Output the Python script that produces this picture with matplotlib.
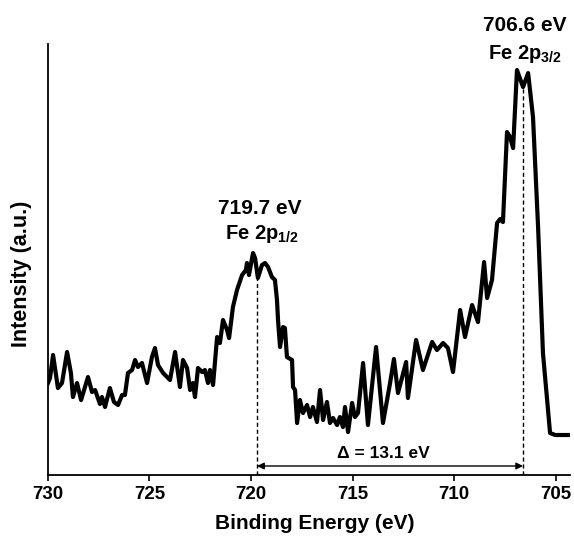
import matplotlib
matplotlib.use("Agg")
import matplotlib.pyplot as plt

plt.rcParams['font.family'] = ['Liberation Sans', 'DejaVu Sans']
plt.rcParams['font.weight'] = 'bold'
plt.rcParams['mathtext.fontset'] = 'custom'
plt.rcParams['mathtext.rm'] = 'Liberation Sans:bold'
plt.rcParams['mathtext.it'] = 'Liberation Sans:bold'
plt.rcParams['mathtext.bf'] = 'Liberation Sans:bold'
plt.rcParams['mathtext.default'] = 'rm'

# Fe 2p XPS spectrum (binding energy in eV, intensity in arbitrary units)
energy = [730.00, 729.90, 729.75, 729.51, 729.31, 729.06, 728.87, 728.77, 728.57, 728.37,
          728.03, 727.83, 727.68, 727.44, 727.34, 727.19, 726.95, 726.75, 726.55, 726.35,
          726.21, 726.06, 725.86, 725.71, 725.57, 725.37, 725.12, 724.88, 724.73, 724.58,
          724.33, 724.14, 723.99, 723.74, 723.50, 723.35, 723.15, 723.00, 722.86, 722.76,
          722.61, 722.41, 722.27, 722.12, 722.02, 721.87, 721.67, 721.53, 721.38, 721.18,
          721.08, 720.89, 720.69, 720.44, 720.25, 720.20, 720.10, 719.90, 719.80, 719.66,
          719.46, 719.31, 719.16, 718.97, 718.82, 718.72, 718.67, 718.57, 718.42, 718.33,
          718.23, 717.98, 717.93, 717.83, 717.73, 717.59, 717.44, 717.24, 717.09, 716.95,
          716.75, 716.60, 716.45, 716.26, 716.11, 715.96, 715.76, 715.62, 715.47, 715.37,
          715.22, 715.02, 714.88, 714.73, 714.48, 714.24, 713.84, 713.50, 713.15, 712.96,
          712.76, 712.36, 712.27, 711.87, 711.53, 711.08, 710.84, 710.54, 710.30, 710.05,
          709.70, 709.46, 709.11, 708.82, 708.52, 708.37, 708.13, 707.88, 707.73, 707.59,
          707.39, 707.24, 707.09, 706.90, 706.60, 706.35, 706.11, 705.86, 705.62, 705.27,
          705.02, 704.38]
intensity = [92, 97, 120, 87, 92, 123, 102, 78, 92, 75,
             98, 83, 85, 71, 78, 68, 87, 73, 70, 80,
             80, 102, 105, 115, 108, 112, 92, 118, 127, 110,
             102, 98, 95, 123, 88, 115, 107, 85, 92, 78,
             107, 103, 105, 92, 105, 90, 138, 132, 155, 145,
             137, 168, 185, 200, 205, 212, 200, 222, 217, 197,
             210, 212, 208, 198, 195, 175, 155, 128, 148, 147,
             118, 115, 88, 85, 52, 75, 62, 70, 58, 68,
             53, 85, 55, 73, 52, 57, 50, 58, 48, 68,
             43, 72, 58, 62, 112, 50, 128, 52, 92, 116,
             82, 113, 77, 135, 105, 133, 125, 132, 127, 103,
             165, 138, 170, 153, 213, 177, 195, 252, 256, 253,
             343, 338, 327, 405, 388, 402, 358, 248, 122, 42,
             40, 40]

peaks = [719.7, 706.6]
peak_labels = ["719.7 eV", "706.6 eV"]
peak_names = ["Fe 2p$_{1/2}$", "Fe 2p$_{3/2}$"]
splitting = "\u0394 = 13.1 eV"

fig = plt.figure(figsize=(5.74, 5.36), dpi=100)
ax = fig.add_axes([0.0836, 0.1138, 0.909, 0.804])

ax.plot(energy, intensity, color='black', lw=3, solid_joinstyle='round', zorder=3)

# dashed markers under each peak
ax.vlines(peaks[0], 0, 205, colors='black', linestyles=(0, (3, 2)), lw=1, zorder=2)
ax.vlines(peaks[1], 0, 390, colors='black', linestyles=(0, (3, 2)), lw=1, zorder=2)

# spin-orbit splitting arrow
ax.annotate("", xy=(peaks[1], 9), xytext=(peaks[0], 9),
            arrowprops=dict(arrowstyle='<|-|>', color='black', lw=1,
                            mutation_scale=10, shrinkA=0, shrinkB=0))
ax.text(713.5, 22, splitting, ha='center', va='center', fontsize=12.5, fontweight='bold')

ax.text(719.55, 267, peak_labels[0], ha='center', va='center', fontsize=15, fontweight='bold')
ax.text(719.45, 241, peak_names[0], ha='center', va='center', fontsize=14.5)
ax.text(706.5, 450, peak_labels[1], ha='center', va='center', fontsize=15,
        fontweight='bold', clip_on=False)
ax.text(706.5, 421, peak_names[1], ha='center', va='center', fontsize=14.5, clip_on=False)

ax.set_xlim(730, 704.3)
ax.set_ylim(0, 431)
ax.set_xticks([730, 725, 720, 715, 710, 705])
ax.set_yticks([])
ax.tick_params(axis='x', direction='out', length=4, width=1.2, labelsize=13.5, pad=4)
for lab in ax.get_xticklabels():
    lab.set_fontweight('bold')

ax.spines['top'].set_visible(False)
ax.spines['right'].set_visible(False)
ax.spines['left'].set_linewidth(1.3)
ax.spines['bottom'].set_linewidth(1.3)

ax.set_xlabel("Binding Energy (eV)", fontsize=15, fontweight='bold')
ax.set_ylabel("Intensity (a.u.)", fontsize=15.5, fontweight='bold')
ax.xaxis.set_label_coords(0.511, -0.113)
ax.xaxis.label.set_va('center')
ax.yaxis.set_label_coords(-0.05, 0.466)
ax.yaxis.label.set_va('center')

fig.savefig("out.png", dpi=100)
